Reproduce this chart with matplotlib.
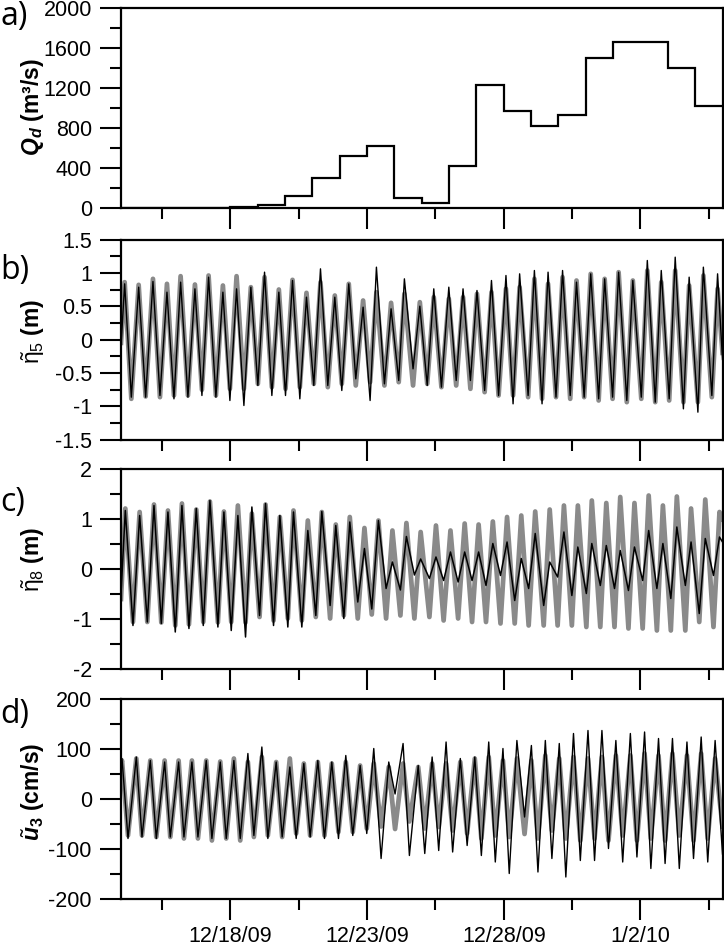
import matplotlib
matplotlib.use('Agg')
import matplotlib.pyplot as plt

plt.rcParams['font.family'] = ['Liberation Sans', 'DejaVu Sans']
plt.rcParams['mathtext.fontset'] = 'custom'
plt.rcParams['mathtext.rm'] = 'Liberation Sans'
plt.rcParams['mathtext.it'] = 'Liberation Sans:italic'
plt.rcParams['mathtext.bf'] = 'Liberation Sans:bold'
plt.rcParams['mathtext.bfit'] = 'Liberation Sans:italic:bold'

# ---------------- data (time in days since 12/14/09 00:00) ----------------
q_edges = list(range(23))
q_values = [0, 0, 0, 5, 15, 35, 122, 298, 520, 623, 103, 53, 425, 1227, 968,
            819, 932, 1500, 1662, 1662, 1396, 1025]

date_major = [4, 9, 14, 19]
date_labels = ['12/18/09', '12/23/09', '12/28/09', '1/2/10']
date_minor = [1.5, 6.5, 11.5, 16.5, 21.5]

tb = [0.0,
      0.134, 0.378, 0.646, 0.901, 1.169, 1.425, 1.681, 1.937, 2.180, 2.448, 2.704, 2.960,
      3.203, 3.471, 3.727, 3.983, 4.227, 4.495, 4.750, 5.006, 5.250, 5.518, 5.773, 6.017,
      6.273, 6.541, 6.784, 7.052, 7.296, 7.564, 7.820, 8.076, 8.331, 8.587, 8.855, 9.111,
      9.342, 9.635, 9.878, 10.158, 10.365, 10.682,
      10.93,
      11.20, 11.44, 11.72, 11.99, 12.26, 12.51, 12.78, 13.02, 13.30, 13.55, 13.81, 14.08,
      14.34, 14.58, 14.89, 15.12, 15.40, 15.62, 15.91, 16.15, 16.43, 16.66, 16.94, 17.18,
      17.47, 17.69, 17.98, 18.20, 18.50, 18.72, 19.03, 19.25, 19.54, 19.76, 20.05, 20.27,
      20.57, 20.78, 21.10, 21.30, 21.61, 21.82,
      22.0]
eta5_model = [-0.05,
      0.86, -0.89, 0.82, -0.855, 0.91, -0.865, 0.835, -0.84, 0.95, -0.84, 0.825, -0.755,
      0.96, -0.84, 0.81, -0.74, 0.95, -0.74, 0.785, -0.665, 0.935, -0.715, 0.75, -0.74,
      0.895, -0.715, 0.70, -0.665, 0.86, -0.715, 0.66, -0.665, 0.835, -0.69, 0.585, -0.64,
      0.71, -0.69, 0.55, -0.64, 0.685, -0.69,
      0.56,
      -0.665, 0.635, -0.715, 0.61, -0.69, 0.635, -0.74, 0.685, -0.79, 0.71, -0.84, 0.76,
      -0.84, 0.785, -0.865, 0.91, -0.89, 0.835, -0.865, 0.935, -0.89, 0.885, -0.865, 0.985,
      -0.915, 0.91, -0.89, 1.01, -0.94, 0.885, -0.89, 1.035, -0.94, 0.86, -0.915, 1.035,
      -0.94, 0.81, -0.94, 0.96, -0.865, 0.76,
      -0.2]
eta5_obs = [-0.1,
      0.835, -0.865, 0.785, -0.865, 0.87, -0.84, 0.71, -0.89, 0.86, -0.865, 0.76, -0.84,
      0.935, -0.865, 0.71, -0.915, 0.76, -0.99, 0.785, -0.69, 1.01, -0.84, 0.71, -0.84,
      0.885, -0.89, 0.635, -0.69, 1.06, -0.69, 0.635, -0.765, 0.835, -0.59, 0.485, -0.915,
      1.085, -0.665, 0.46, -0.615, 0.91, -0.44,
      0.5,
      -0.69, 0.76, -0.715, 0.785, -0.615, 0.76, -0.615, 0.735, -0.765, 0.885, -0.84, 0.96,
      -0.965, 0.985, -0.84, 1.035, -0.965, 1.01, -0.865, 1.035, -0.84, 0.86, -0.865, 0.985,
      -0.89, 0.91, -0.865, 1.01, -0.915, 0.885, -0.865, 1.185, -0.94, 1.035, -0.89, 1.235,
      -1.04, 0.935, -1.09, 1.085, -0.84, 0.985,
      -0.3]

tc = [0.0,
      0.158, 0.438, 0.682, 0.962, 1.206, 1.474, 1.717, 1.985, 2.229, 2.485, 2.753, 3.009,
      3.252, 3.544, 3.764, 4.032, 4.275, 4.555, 4.787, 5.067, 5.286, 5.579, 5.810, 6.102,
      6.309, 6.614, 6.833, 7.125, 7.345, 7.649, 7.856, 8.149, 8.368, 8.660, 8.904, 9.172,
      9.415, 9.696, 9.927, 10.219, 10.439, 10.731,
      10.96,
      11.28, 11.52, 11.80, 12.05, 12.33, 12.57, 12.84, 13.08, 13.35, 13.60, 13.88, 14.12,
      14.40, 14.64, 14.91, 15.15, 15.46, 15.68, 15.97, 16.20, 16.49, 16.71, 17.02, 17.22,
      17.53, 17.75, 18.05, 18.26, 18.56, 18.78, 19.08, 19.30, 19.60, 19.82, 20.11, 20.33,
      20.64, 20.85, 21.15, 21.37, 21.67, 21.89,
      22.0]
eta8_model = [-0.6,
      1.21, -1.06, 1.14, -1.06, 1.29, -1.07, 1.17, -1.13, 1.31, -1.11, 1.19, -1.06,
      1.35, -1.07, 1.15, -1.06, 1.27, -1.07, 1.11, -0.96, 1.29, -1.03, 1.04, -0.99,
      1.17, -1.03, 0.97, -0.96, 1.14, -0.99, 0.89, -0.93, 1.04, -0.99, 0.82, -0.91,
      0.97, -0.99, 0.77, -0.93, 0.92, -0.99,
      0.74,
      -0.96, 0.87, -1.03, 0.77, -0.99, 0.91, -1.06, 0.89, -1.06, 0.95, -1.09, 1.04,
      -1.09, 1.07, -1.13, 1.15, -1.13, 1.19, -1.13, 1.27, -1.13, 1.27, -1.16, 1.37,
      -1.16, 1.32, -1.16, 1.44, -1.19, 1.32, -1.19, 1.47, -1.23, 1.27, -1.23, 1.45,
      -1.23, 1.21, -1.06, 1.39, -1.16, 1.14,
      1.0]
eta8_obs = [-0.5,
      1.17, -1.13, 1.07, -1.06, 1.27, -1.09, 1.14, -1.26, 1.27, -1.19, 1.21, -1.13,
      1.37, -1.16, 1.14, -1.23, 1.07, -1.36, 1.24, -0.93, 1.31, -1.13, 1.07, -1.16,
      1.14, -1.16, 0.77, -0.93, 1.15, -0.73, 0.87, -0.99, 0.94, -0.66, 0.41, -0.80,
      0.97, -0.39, 0.14, -0.42, 0.65, -0.12,
      0.2,
      -0.19, 0.24, -0.23, 0.34, -0.26, 0.34, -0.23, 0.34, -0.33, 0.51, -0.13, 0.54,
      -0.63, 0.21, -0.39, 0.71, -0.73, 0.14, -0.16, 0.74, -0.53, 0.44, -0.49, 0.51,
      -0.33, 0.47, -0.39, 0.37, -0.43, 0.44, -0.23, 0.77, -0.39, 0.51, -0.59, 0.84,
      -0.33, 0.54, -0.89, 0.61, -0.13, 0.64,
      0.54]

td = [0.0,
      0.037, 0.256, 0.560, 0.767, 1.072, 1.291, 1.596, 1.803, 2.107, 2.302, 2.594, 2.814,
      3.118, 3.325, 3.630, 3.849, 4.129, 4.361, 4.641, 4.860, 5.152, 5.371, 5.676, 5.895,
      6.175, 6.407, 6.687, 6.918, 7.199, 7.442, 7.710, 7.954, 8.222, 8.477, 8.746, 8.989,
      9.245, 9.513, 9.793, 10.024, 10.317, 10.548,
      10.87,
      11.11, 11.38, 11.62, 11.89, 12.13, 12.41, 12.66, 12.94, 13.18, 13.45, 13.69, 13.97,
      14.20, 14.48, 14.76, 15.01, 15.25, 15.52, 15.76, 16.03, 16.27, 16.55, 16.80, 17.08,
      17.32, 17.59, 17.83, 18.10, 18.35, 18.63, 18.87, 19.15, 19.38, 19.66, 19.90, 20.17,
      20.42, 20.70, 20.94, 21.22, 21.46, 21.73,
      22.0]
u3_model = [70,
      77, -73, 81, -73, 77, -76, 77, -76, 77, -79, 77, -79,
      77, -83, 75, -79, 81, -83, 74, -76, 84, -73, 74, -76,
      81, -69, 71, -73, 74, -73, 71, -66, 74, -66, 67, -59,
      71, -55, 64, -60, 71, -45,
      64,
      -59, 71, -56, 71, -63, 74, -69, 81, -79, 84, -73, 77,
      -76, 81, -70, 77, -79, 87, -63, 81, -79, 84, -83, 81,
      -79, 84, -83, 87, -73, 87, -83, 91, -79, 87, -83, 91,
      -73, 87, -83, 91, -79, 81,
      -55]
u3_obs = [70,
      81, -79, 84, -76, 77, -79, 74, -76, 74, -76, 74, -76,
      77, -79, 74, -79, 77, -79, 91, -73, 104, -79, 74, -76,
      64, -79, 71, -76, 77, -79, 74, -79, 87, -73, 67, -69,
      101, -119, 74, 10, 111, -113,
      67,
      -109, 84, -103, 114, -106, 81, -93, 84, -113, 114, -126, 101,
      -149, 117, -36, 107, -146, 117, -119, 111, -156, 131, -123, 137,
      -123, 137, -99, 117, -126, 131, -116, 134, -139, 121, -129, 121,
      -139, 114, -119, 124, -126, 117,
      -110]

# ---------------- figure ----------------
W, H = 724, 950
fig = plt.figure(figsize=(W / 100, H / 100), dpi=100)

left = 121 / W
width = (722.5 - 121) / W
hgt = 200 / H
tops = [8, 239.5, 469, 699]

GRAY = '#8a8a8a'
TICKFS = 15.5

axes = []
for tp in tops:
    ax = fig.add_axes([left, 1 - (tp + 200) / H, width, hgt])
    for s in ax.spines.values():
        s.set_linewidth(1.6)
    ax.set_xlim(0, 22)
    ax.set_xticks(date_major)
    ax.set_xticks(date_minor, minor=True)
    ax.tick_params(which='both', direction='out', top=False, right=False,
                   width=1.5, labelsize=TICKFS)
    ax.tick_params(which='major', length=15, pad=6)
    ax.tick_params(which='minor', length=8)
    ax.set_xticklabels([])
    axes.append(ax)

ax_a, ax_b, ax_c, ax_d = axes

# a) discharge
ax_a.stairs(q_values, q_edges, baseline=None, color='black', linewidth=1.6)
ax_a.set_ylim(0, 2000)
ax_a.set_yticks([0, 400, 800, 1200, 1600, 2000])
ax_a.set_yticklabels(['0', '400', '800', '1200', '1600', '2000'])
ax_a.set_yticks(list(range(200, 2000, 400)), minor=True)

# b) eta5
ax_b.plot(tb, eta5_model, color=GRAY, linewidth=3.4, solid_joinstyle='round')
ax_b.plot(tb, eta5_obs, color='black', linewidth=1.0, solid_joinstyle='round')
ax_b.set_ylim(-1.5, 1.5)
ax_b.set_yticks([-1.5, -1, -0.5, 0, 0.5, 1, 1.5])
ax_b.set_yticklabels(['-1.5', '-1', '-0.5', '0', '0.5', '1', '1.5'])
ax_b.set_yticks([-1.25, -0.75, -0.25, 0.25, 0.75, 1.25], minor=True)

# c) eta8
ax_c.plot(tc, eta8_model, color=GRAY, linewidth=3.4, solid_joinstyle='round')
ax_c.plot(tc, eta8_obs, color='black', linewidth=1.1, solid_joinstyle='round')
ax_c.set_ylim(-2, 2)
ax_c.set_yticks([-2, -1, 0, 1, 2])
ax_c.set_yticklabels(['-2', '-1', '0', '1', '2'])
ax_c.set_yticks([-1.5, -0.5, 0.5, 1.5], minor=True)

# d) u3
ax_d.plot(td, u3_model, color=GRAY, linewidth=3.4, solid_joinstyle='round')
ax_d.plot(td, u3_obs, color='black', linewidth=1.0, solid_joinstyle='round')
ax_d.set_ylim(-200, 200)
ax_d.set_yticks([-200, -100, 0, 100, 200])
ax_d.set_yticklabels(['-200', '-100', '0', '100', '200'])
ax_d.set_yticks([-150, -50, 50, 150], minor=True)
ax_d.set_xticklabels(date_labels)
ax_d.tick_params(axis='x', which='major', pad=4.5)

# y labels
YFS = 16.5
ylab_x = 33 / W
fig.text(ylab_x, 1 - 107 / H, r'$\mathbfit{Q}_{\mathbfit{d}}$ (m³/s)', rotation=90,
         ha='center', va='center', fontsize=YFS, fontweight='bold')
fig.text(ylab_x, 1 - 331 / H, r'$\tilde{\mathrm{\eta}}_{5}$ (m)', rotation=90,
         ha='center', va='center', fontsize=YFS, fontweight='bold')
fig.text(ylab_x, 1 - 559 / H, r'$\tilde{\mathrm{\eta}}_{8}$ (m)', rotation=90,
         ha='center', va='center', fontsize=YFS, fontweight='bold')
fig.text(ylab_x, 1 - 792 / H, r'$\tilde{\mathbfit{u}}_{\mathbf{3}}$ (cm/s)', rotation=90,
         ha='center', va='center', fontsize=YFS, fontweight='bold')

# panel letters
for lab, yc in zip(['a)', 'b)', 'c)', 'd)'], [17, 270, 502, 714]):
    fig.text(0 / W, 1 - yc / H, lab, ha='left', va='center', fontsize=23,
             family=['Open Sans', 'DejaVu Sans'])

fig.savefig('out.png', dpi=100)
